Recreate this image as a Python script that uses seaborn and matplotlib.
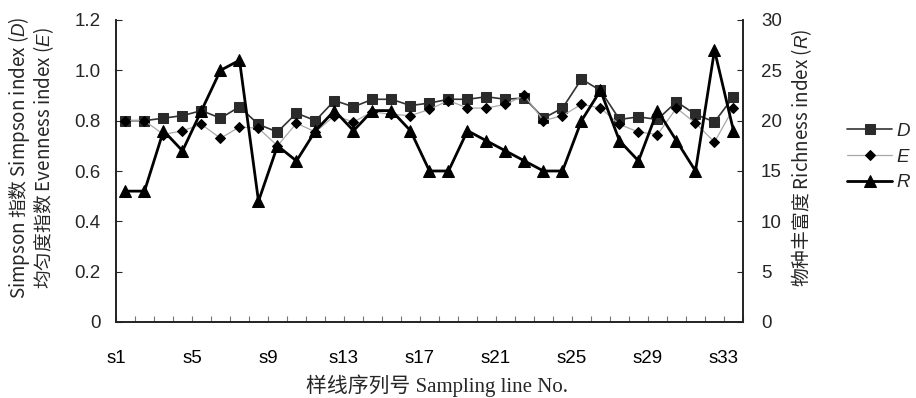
import matplotlib
matplotlib.use("Agg")
import matplotlib.pyplot as plt
import numpy as np
import seaborn as sns

# Data
sample_names = [f"s{i}" for i in range(1, 34)]
simpson_d = [0.80, 0.80, 0.81, 0.82, 0.84, 0.81, 0.855, 0.785, 0.755, 0.83, 0.80,
             0.88, 0.855, 0.885, 0.885, 0.86, 0.87, 0.885, 0.885, 0.895, 0.885,
             0.89, 0.81, 0.85, 0.965, 0.92, 0.805, 0.815, 0.805, 0.875, 0.825,
             0.795, 0.895]
evenness_e = [0.80, 0.80, 0.745, 0.76, 0.785, 0.73, 0.775, 0.77, 0.70, 0.79, 0.755,
              0.82, 0.795, 0.835, 0.825, 0.82, 0.845, 0.88, 0.85, 0.85, 0.865,
              0.90, 0.80, 0.82, 0.865, 0.85, 0.785, 0.755, 0.745, 0.85, 0.79,
              0.715, 0.85]
richness_r = [13, 13, 19, 17, 21, 25, 26, 12, 17.5, 16, 19, 21, 19, 21, 21, 19,
              15, 15, 19, 18, 17, 16, 15, 15, 20, 23, 18, 16, 21, 18, 15, 27, 19]

left_ticks = [0, 0.2, 0.4, 0.6, 0.8, 1.0, 1.2]
left_tick_labels = ["0", "0.2", "0.4", "0.6", "0.8", "1.0", "1.2"]
right_ticks = [0, 5, 10, 15, 20, 25, 30]

sns.set_theme(style="white")
plt.rcParams["font.family"] = ["Liberation Sans", "Noto Sans CJK SC"]
plt.rcParams["mathtext.fontset"] = "custom"
plt.rcParams["mathtext.rm"] = "Liberation Sans"
plt.rcParams["mathtext.it"] = "Liberation Sans:italic"

W, H = 916, 398
fig = plt.figure(figsize=(W / 100, H / 100), dpi=100)
ax = fig.add_axes([116 / W, 1 - 322 / H, (743 - 116) / W, (322 - 20) / H])
ax2 = ax.twinx()

pos = np.arange(len(sample_names))

sns.lineplot(x=pos, y=simpson_d, ax=ax, color="#333333", lw=1.2, marker="s",
             markersize=6.5, markerfacecolor="#2b2b2b", markeredgecolor="#2b2b2b",
             label="$D$", zorder=3)
sns.lineplot(x=pos, y=evenness_e, ax=ax, color="#a8a8a8", lw=0.9, marker="D",
             markersize=5.3, markerfacecolor="black", markeredgecolor="black",
             label="$E$", zorder=4)
sns.lineplot(x=pos, y=richness_r, ax=ax2, color="black", lw=2.0, marker="^",
             markersize=9, markerfacecolor="black", markeredgecolor="black",
             label="$R$", zorder=5)

for a in (ax, ax2):
    if a.get_legend() is not None:
        a.get_legend().remove()
    a.set_xlabel("")
    a.set_ylabel("")
    a.spines["top"].set_visible(False)
    for s in ("left", "right", "bottom"):
        a.spines[s].set_color("#222222")
        a.spines[s].set_linewidth(1.2)

ax.set_xlim(-0.5, len(sample_names) - 0.5)
ax.set_ylim(0, 1.2)
ax2.set_ylim(0, 30)

boundaries = np.arange(-0.5, len(sample_names), 1.0)
xlabels = [sample_names[k] if (k % 4 == 0 and k < len(sample_names)) else ""
           for k in range(len(boundaries))]
ax.set_xticks(boundaries)
ax.set_xticklabels(xlabels)
ax.set_yticks(left_ticks)
ax.set_yticklabels(left_tick_labels)
ax2.set_yticks(right_ticks)

ax.tick_params(axis="x", direction="in", length=4, width=0.8, color="#777777",
               pad=20, labelsize=13.5, labelcolor="black", bottom=True)
ax.tick_params(axis="y", direction="in", length=4, width=0.8, pad=11,
               labelsize=13.5, left=True)
ax2.tick_params(axis="y", direction="in", length=4, width=0.8, pad=13,
                labelsize=13.5, right=True)

# Axis titles
fig.text(31 / W, 1 - 158 / H,
         "Simpson 指数 Simpson index ($D$)\n均匀度指数 Evenness index ($E$)",
         rotation=90, ha="center", va="center", multialignment="center",
         fontsize=13.5, family="Noto Sans CJK SC", linespacing=0.95)
fig.text(802 / W, 1 - 158 / H, "物种丰富度 Richness index ($R$)",
         rotation=90, ha="center", va="center", fontsize=13.5,
         family="Noto Sans CJK SC")
fig.text(437 / W, 1 - 386 / H, "样线序列号 Sampling line No.",
         ha="center", va="center", fontsize=15,
         family=["Liberation Serif", "Noto Sans CJK SC"])

# Legend
h1, l1 = ax.get_legend_handles_labels()
h2, l2 = ax2.get_legend_handles_labels()
fig.legend(h1 + h2, l1 + l2, loc="center left",
           bbox_to_anchor=(847 / W, 1 - 157 / H), frameon=False,
           fontsize=13.5, handlelength=2.4, handletextpad=0.2,
           labelspacing=0.45, borderpad=0, borderaxespad=0)

fig.savefig("out.png", dpi=100)
